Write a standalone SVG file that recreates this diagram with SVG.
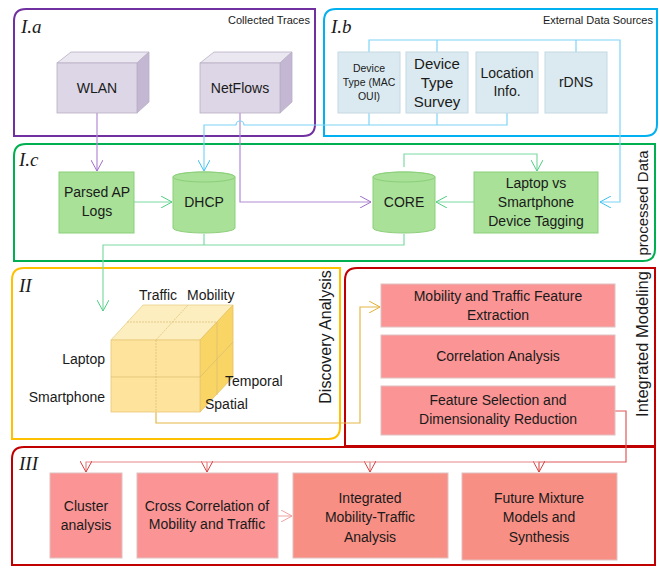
<svg xmlns="http://www.w3.org/2000/svg" width="660" height="569" viewBox="0 0 660 569">
<style>
  text { font-family: "Liberation Sans", Arial, sans-serif; fill: #1a1a1a; }
  .lbl { font-size: 14px; text-anchor: middle; }
  .sm { font-size: 11px; }
  .tiny { font-size: 10.5px; }
  .big { font-size: 15px; }
  .title { font-family: "Liberation Serif", "Times New Roman", serif; font-style: italic; font-size: 19px; }
  .side { font-size: 15px; text-anchor: middle; }
  .side16 { font-size: 16px; text-anchor: middle; }
  .side17 { font-size: 16.5px; text-anchor: middle; }
  .frame { fill: none; stroke-width: 2; }
  .lav { stroke: #b8b0c4; stroke-width: 0.8; }
  .blue { fill: #dbeaf0; stroke: #c5d9e2; }
  .grn { fill: #a8e197; stroke: #8ccf7a; }
  .pink { fill: #fb9595; stroke: #e0c0c0; }
  .salmon { fill: #f88f84; stroke: #e0c0c0; }
  .c { fill: none; stroke-width: 1.2; }
  .cube { font-size: 14px; }
</style>
<defs>
  <marker id="aP" viewBox="0 0 12 12" refX="11" refY="6" markerWidth="12" markerHeight="12" markerUnits="userSpaceOnUse" orient="auto"><path d="M0,0 L11,6 L0,12" fill="none" stroke="#9f6fcc" stroke-width="1"/></marker>
  <marker id="aB" viewBox="0 0 12 12" refX="11" refY="6" markerWidth="12" markerHeight="12" markerUnits="userSpaceOnUse" orient="auto"><path d="M0,0 L11,6 L0,12" fill="none" stroke="#3cc0f0" stroke-width="1"/></marker>
  <marker id="aG" viewBox="0 0 12 12" refX="11" refY="6" markerWidth="12" markerHeight="12" markerUnits="userSpaceOnUse" orient="auto"><path d="M0,0 L11,6 L0,12" fill="none" stroke="#4ccf80" stroke-width="1"/></marker>
  <marker id="aY" viewBox="0 0 12 12" refX="11" refY="6" markerWidth="12" markerHeight="12" markerUnits="userSpaceOnUse" orient="auto"><path d="M0,0 L11,6 L0,12" fill="none" stroke="#e0b030" stroke-width="1"/></marker>
  <marker id="aR" viewBox="0 0 12 12" refX="11" refY="6" markerWidth="12" markerHeight="12" markerUnits="userSpaceOnUse" orient="auto"><path d="M0,0 L11,6 L0,12" fill="none" stroke="#d84040" stroke-width="1"/></marker>
  <marker id="aRL" viewBox="0 0 12 12" refX="11" refY="6" markerWidth="12" markerHeight="12" markerUnits="userSpaceOnUse" orient="auto"><path d="M0,0 L11,6 L0,12" fill="none" stroke="#f0a0a0" stroke-width="1"/></marker>
</defs>

<!-- Frames -->
<g id="frames">
  <path class="frame" stroke="#7030a0" d="M26,9 H315 V124 Q315,136 303,136 H14 V21 Q14,9 26,9 Z"/>
  <path class="frame" stroke="#00b0f0" d="M336,9 H657 V124 Q657,136 645,136 H324 V21 Q324,9 336,9 Z"/>
  <path class="frame" stroke="#00b050" d="M26,144 H655 V249 Q655,261 643,261 H14 V156 Q14,144 26,144 Z"/>
  <path class="frame" stroke="#ffc000" d="M24,268 H340 V427 Q340,439 328,439 H12 V280 Q12,268 24,268 Z"/>
  <path class="frame" stroke="#c00000" d="M357,268 H655 V446 H345 V280 Q345,268 357,268 Z"/>
  <path class="frame" stroke="#c00000" d="M24,447 H655 V565 H12 V459 Q12,447 24,447 Z"/>
  <text class="title" x="21" y="33">I.a</text>
  <text class="sm" x="310" y="24" text-anchor="end">Collected Traces</text>
  <text class="title" x="331" y="33">I.b</text>
  <text class="sm" x="653" y="24" text-anchor="end">External Data Sources</text>
  <text class="title" x="19" y="166">I.c</text>
  <text class="side" transform="translate(648,203) rotate(-90)">processed Data</text>
  <text class="title" x="19" y="292">II</text>
  <text class="side16" transform="translate(331,337) rotate(-90)">Discovery Analysis</text>
  <text class="title" x="19" y="470">III</text>
  <text class="side17" transform="translate(648,344) rotate(-90)">Integrated Modeling</text>
</g>

<!-- Connectors -->
<g id="connectors">
  <!-- purple -->
  <path class="c" stroke="#b28bd6" d="M97,113 V171" marker-end="url(#aP)"/>
  <path class="c" stroke="#b28bd6" d="M240,113 V202 H371" marker-end="url(#aP)"/>
  <!-- blue -->
  <path class="c" stroke="#7fd4f5" d="M369,52 V40 H620 V202 H600" marker-end="url(#aB)"/>
  <path class="c" stroke="#7fd4f5" d="M437,52 V40"/>
  <path class="c" stroke="#7fd4f5" d="M576,52 V40"/>
  <path class="c" stroke="#7fd4f5" d="M369,113 V125"/>
  <path class="c" stroke="#7fd4f5" d="M437,113 V125"/>
  <path class="c" stroke="#7fd4f5" d="M507,113 V125 H244 A4,4 0 0 0 236,125 H204 V171" marker-end="url(#aB)"/>
  <!-- green -->
  <path class="c" stroke="#7fdaa4" d="M134,202 H172" marker-end="url(#aG)"/>
  <path class="c" stroke="#7fdaa4" d="M474,202 H436" marker-end="url(#aG)"/>
  <path class="c" stroke="#7fdaa4" d="M404,167 V154 H537 V171" marker-end="url(#aG)"/>
  <path class="c" stroke="#7fdaa4" d="M204,234 V245"/>
  <path class="c" stroke="#7fdaa4" d="M404,234 V245 H103 V311" marker-end="url(#aG)"/>
  <!-- yellow -->
  <path class="c" stroke="#e4b848" d="M156,412 V423 H360 V307 H380" marker-end="url(#aY)"/>
  <!-- red -->
  <path class="c" stroke="#e05858" d="M615,411 H626 V462 H539 V472" marker-end="url(#aR)"/>
  <path class="c" stroke="#e88888" d="M539,462 H370 V472" marker-end="url(#aR)"/>
  <path class="c" stroke="#e88888" d="M370,462 H207 V472" marker-end="url(#aR)"/>
  <path class="c" stroke="#e88888" d="M207,462 H86 V472" marker-end="url(#aR)"/>
  <path class="c" stroke="#f2b0b0" d="M278,516 H292" marker-end="url(#aRL)"/>
</g>

<!-- I.a nodes -->
<g id="wlan">
  <polygon points="57,63 71,52 149,52 137,63" fill="#ebe7f0" class="lav"/>
  <polygon points="137,63 149,52 149,102 137,113" fill="#c3b7d3" class="lav"/>
  <rect x="57" y="63" width="80" height="50" fill="#dcd6e6" class="lav"/>
  <text class="lbl" x="97" y="93">WLAN</text>
</g>
<g id="netflows">
  <polygon points="200,63 214,52 292,52 280,63" fill="#ebe7f0" class="lav"/>
  <polygon points="280,63 292,52 292,102 280,113" fill="#c3b7d3" class="lav"/>
  <rect x="200" y="63" width="80" height="50" fill="#dcd6e6" class="lav"/>
  <text class="lbl" x="240" y="93">NetFlows</text>
</g>

<!-- I.b nodes -->
<g id="device-type-mac">
  <rect class="blue" x="338" y="52" width="62" height="61"/>
  <text class="lbl tiny" x="369" y="72">Device</text>
  <text class="lbl tiny" x="369" y="86">Type (MAC</text>
  <text class="lbl tiny" x="369" y="100">OUI)</text>
</g>
<g id="device-type-survey">
  <rect class="blue" x="406" y="52" width="62" height="61"/>
  <text class="lbl big" x="437" y="69">Device</text>
  <text class="lbl big" x="437" y="88">Type</text>
  <text class="lbl big" x="437" y="107">Survey</text>
</g>
<g id="location-info">
  <rect class="blue" x="476" y="52" width="62" height="61"/>
  <text class="lbl" x="507" y="78">Location</text>
  <text class="lbl" x="507" y="96">Info.</text>
</g>
<g id="rdns">
  <rect class="blue" x="545" y="52" width="62" height="61"/>
  <text class="lbl" x="576" y="87">rDNS</text>
</g>

<!-- I.c nodes -->
<g id="parsed-ap-logs">
  <rect class="grn" x="59" y="172" width="75" height="61"/>
  <text class="lbl" x="97" y="197">Parsed AP</text>
  <text class="lbl" x="97" y="216">Logs</text>
</g>
<g id="dhcp">
  <path class="grn" d="M173,177 V228 A31,5 0 0 0 235,228 V177 A31,5 0 0 0 173,177 Z"/>
  <ellipse class="grn" cx="204" cy="177" rx="31" ry="5"/>
  <text class="lbl" x="204" y="207">DHCP</text>
</g>
<g id="core">
  <path class="grn" d="M373,177 V228 A31,5 0 0 0 435,228 V177 A31,5 0 0 0 373,177 Z"/>
  <ellipse class="grn" cx="404" cy="177" rx="31" ry="5"/>
  <text class="lbl" x="404" y="207">CORE</text>
</g>
<g id="device-tagging">
  <rect class="grn" x="474" y="172" width="124" height="61"/>
  <text class="lbl" x="536" y="188">Laptop vs</text>
  <text class="lbl" x="536" y="207">Smartphone</text>
  <text class="lbl" x="536" y="226">Device Tagging</text>
</g>

<!-- II cube -->
<g id="cube">
  <polygon points="111,340 143,305 233,305 200,340" fill="#fdeebf" stroke="#e8cf88" stroke-width="0.8"/>
  <polygon points="200,340 233,305 233,377 200,412" fill="#f9d566" stroke="#e8c060" stroke-width="0.8"/>
  <rect x="111" y="340" width="89" height="72" fill="#fde39c" stroke="#e8c878" stroke-width="0.8"/>
  <g stroke="#d9bb70" stroke-width="0.7" fill="none">
    <line x1="156" y1="340" x2="188" y2="305" stroke-dasharray="2,1"/>
    <line x1="127" y1="322" x2="217" y2="322" stroke-dasharray="2,1"/>
    <line x1="156" y1="340" x2="156" y2="412" stroke-dasharray="2,1"/>
    <line x1="111" y1="377" x2="200" y2="377"/>
    <line x1="217" y1="322" x2="217" y2="395"/>
    <line x1="200" y1="377" x2="233" y2="342"/>
  </g>
  <text class="cube" x="139" y="300">Traffic</text>
  <text class="cube" x="187" y="300">Mobility</text>
  <text class="cube" x="105" y="364" text-anchor="end">Laptop</text>
  <text class="cube" x="105" y="402" text-anchor="end">Smartphone</text>
  <text class="cube" x="225" y="386">Temporal</text>
  <text class="cube" x="205" y="409">Spatial</text>
</g>

<!-- Integrated Modeling nodes -->
<g id="feature-extraction">
  <rect class="pink" x="381" y="284" width="234" height="43"/>
  <text class="lbl" x="498" y="301">Mobility and Traffic Feature</text>
  <text class="lbl" x="498" y="320">Extraction</text>
</g>
<g id="correlation-analysis">
  <rect class="pink" x="381" y="335" width="234" height="43"/>
  <text class="lbl" x="498" y="361">Correlation Analysis</text>
</g>
<g id="feature-selection">
  <rect class="pink" x="381" y="386" width="234" height="49"/>
  <text class="lbl" x="498" y="405">Feature Selection and</text>
  <text class="lbl" x="498" y="424">Dimensionality Reduction</text>
</g>

<!-- III nodes -->
<g id="cluster-analysis">
  <rect class="pink" x="50" y="473" width="72" height="85"/>
  <text class="lbl" x="86" y="511">Cluster</text>
  <text class="lbl" x="86" y="530">analysis</text>
</g>
<g id="cross-correlation">
  <rect class="pink" x="137" y="473" width="141" height="85"/>
  <text class="lbl" x="207" y="511">Cross Correlation of</text>
  <text class="lbl" x="207" y="529">Mobility and Traffic</text>
</g>
<g id="integrated-analysis">
  <rect class="salmon" x="293" y="473" width="155" height="85"/>
  <text class="lbl" x="370" y="503">Integrated</text>
  <text class="lbl" x="370" y="522">Mobility-Traffic</text>
  <text class="lbl" x="370" y="542">Analysis</text>
</g>
<g id="future-mixture">
  <rect class="salmon" x="462" y="473" width="155" height="87"/>
  <text class="lbl" x="539" y="503">Future Mixture</text>
  <text class="lbl" x="539" y="522">Models and</text>
  <text class="lbl" x="539" y="542">Synthesis</text>
</g>
</svg>
